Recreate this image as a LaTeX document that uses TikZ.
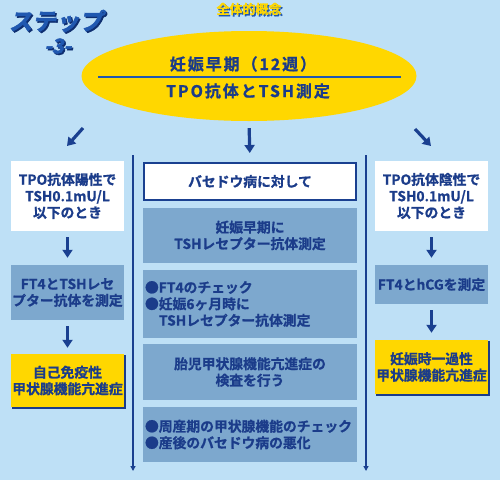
\documentclass[tikz,border=0pt]{standalone}
\usepackage{fontspec}
\setmainfont{Noto Sans CJK JP}[BoldFont={* Bold},BoldFeatures={FakeBold=1}]
\newfontfamily\titlefont{Noto Sans CJK JP}[BoldFont={* Bold},BoldFeatures={FakeBold=2.5},FakeSlant=0.18]
\newfontfamily\elfont{Noto Sans CJK JP}[BoldFont={* Bold},BoldFeatures={FakeBold=1},LetterSpace=12]
\usetikzlibrary{arrows.meta,shapes.geometric}
\definecolor{bg}{HTML}{BEE0F6}
\definecolor{ylw}{HTML}{FFD700}
\definecolor{bbox}{HTML}{7DA8CE}
\definecolor{txt}{HTML}{1B3C8A}
\definecolor{lne}{HTML}{1A4090}
\definecolor{ttl}{HTML}{2058B0}
\definecolor{ttlsh}{HTML}{0E2E70}
\tikzset{
  x=1pt,y=-1pt,
  boxbase/.style={inner sep=0pt,align=center,text=txt,font=\bfseries\fontsize{13.8}{16.5}\selectfont},
  whitebox/.style={boxbase,fill=white},
  bluebox/.style={boxbase,fill=bbox},
  ylwbox/.style={boxbase,fill=ylw},
  cwhite/.style={boxbase,fill=white,draw=lne,line width=2pt},
  fatarrow/.style={draw=lne,line width=3.2pt,-{Triangle[width=10pt,length=8pt]}},
  thinarrow/.style={draw=lne,line width=1.4pt,-{Triangle[width=5pt,length=5pt]}},
}
\begin{document}
\begin{tikzpicture}
\fill[bg] (0,0) rectangle (500,480);
\useasboundingbox (0,0) rectangle (500,480);
% title
\node[text=ttlsh,font=\titlefont\bfseries\fontsize{23.5}{24}\selectfont,inner sep=0] (t1s) at (57.5,22.5) {ステップ};
\node[text=ttl,font=\titlefont\bfseries\fontsize{23.5}{24}\selectfont,inner sep=0] (t1) at (56,21) {ステップ};
\node[text=ttlsh,font=\titlefont\bfseries\fontsize{20}{20}\selectfont,inner sep=0] (t2s) at (59.5,47.5) {-3-};
\node[text=ttl,font=\titlefont\bfseries\fontsize{20}{20}\selectfont,inner sep=0] (t2) at (58,46) {-3-};
\node[text=ttl,font=\bfseries\fontsize{13}{13}\selectfont,inner sep=0] (g1s) at (250.5,10.5) {全体的概念};
\node[text=ylw,font=\bfseries\fontsize{13}{13}\selectfont,inner sep=0] (g1) at (249,9) {全体的概念};
% ellipse
\node[ellipse,fill=ylw,minimum width=335pt,minimum height=90pt,inner sep=0] (el) at (249,76) {};
\node[text=txt,font=\elfont\bfseries\fontsize{16}{16}\selectfont,inner sep=0] (e1) at (243,64) {妊娠早期（12週）};
\node[text=txt,font=\elfont\bfseries\fontsize{16}{16}\selectfont,inner sep=0] (e2) at (248,91) {TPO抗体とTSH測定};
\coordinate (ll) at (98,77);
\coordinate (lr) at (401,77);
\draw[draw=ttl,line width=2pt] (ll) -- (lr);
% top arrows
\coordinate (a1s) at (83,128);
\coordinate (a1e) at (67,146);
\coordinate (a3s) at (415,129);
\coordinate (a3e) at (431,146);
\draw[fatarrow] (a1s) -- (a1e);
\draw[fatarrow] (a3s) -- (a3e);
% left column
\node[whitebox,minimum width=113pt,minimum height=70pt] (lw) at (67.5,196) {TPO抗体陽性で\\TSH0.1mU/L\\以下のとき};
\node[bluebox,minimum width=113pt,minimum height=55pt] (lb) at (67.5,292.5) {FT4とTSHレセ\\プター抗体を測定};
\fill[txt] (12,355) rectangle (126,409);
\node[ylwbox,minimum width=113pt,minimum height=53pt] (ly) at (67.5,380.5) {自己免疫性\\甲状腺機能亢進症};
\draw[fatarrow,shorten <=6pt,shorten >=7pt] (lw) -- (lb);
\draw[fatarrow,shorten <=6pt,shorten >=6pt] (lb) -- (ly);
% right column
\node[whitebox,minimum width=113pt,minimum height=70pt] (rw) at (431.5,196) {TPO抗体陰性で\\TSH0.1mU/L\\以下のとき};
\node[bluebox,minimum width=113pt,minimum height=39pt] (rb) at (431.5,284.5) {FT4とhCGを測定};
\fill[txt] (376,341) rectangle (490,396);
\node[ylwbox,minimum width=113pt,minimum height=54pt] (ry) at (431.5,367) {妊娠時一過性\\甲状腺機能亢進症};
\draw[fatarrow,shorten <=6pt,shorten >=7pt] (rw) -- (rb);
\draw[fatarrow,shorten <=6pt,shorten >=7pt] (rb) -- (ry);
% center column
\node[cwhite,minimum width=212pt,minimum height=37pt] (cw) at (250,181.5) {バセドウ病に対して};
\draw[fatarrow,shorten <=7pt,shorten >=9pt] (el.south) -- (cw.north);
\node[bluebox,minimum width=214pt,minimum height=55pt] (c1) at (250,235.5) {妊娠早期に\\TSHレセプター抗体測定};
\node[bluebox,minimum width=214pt,minimum height=68pt,align=left,text width=210pt] (c2) at (250,304) {●FT4のチェック\\●妊娠6ヶ月時に\\\hspace*{14pt}TSHレセプター抗体測定};
\node[bluebox,minimum width=214pt,minimum height=56pt] (c3) at (250,372) {胎児甲状腺機能亢進症の\\検査を行う};
\node[bluebox,minimum width=214pt,minimum height=55pt,align=left,text width=210pt] (c4) at (250,434.5) {●周産期の甲状腺機能のチェック\\●産後のバセドウ病の悪化};
% vertical lines
\coordinate (vl1) at (133,155);
\coordinate (vl2) at (133,471);
\coordinate (vr1) at (366,155);
\coordinate (vr2) at (366,471);
\draw[thinarrow] (vl1) -- (vl2);
\draw[thinarrow] (vr1) -- (vr2);
\end{tikzpicture}
\end{document}
